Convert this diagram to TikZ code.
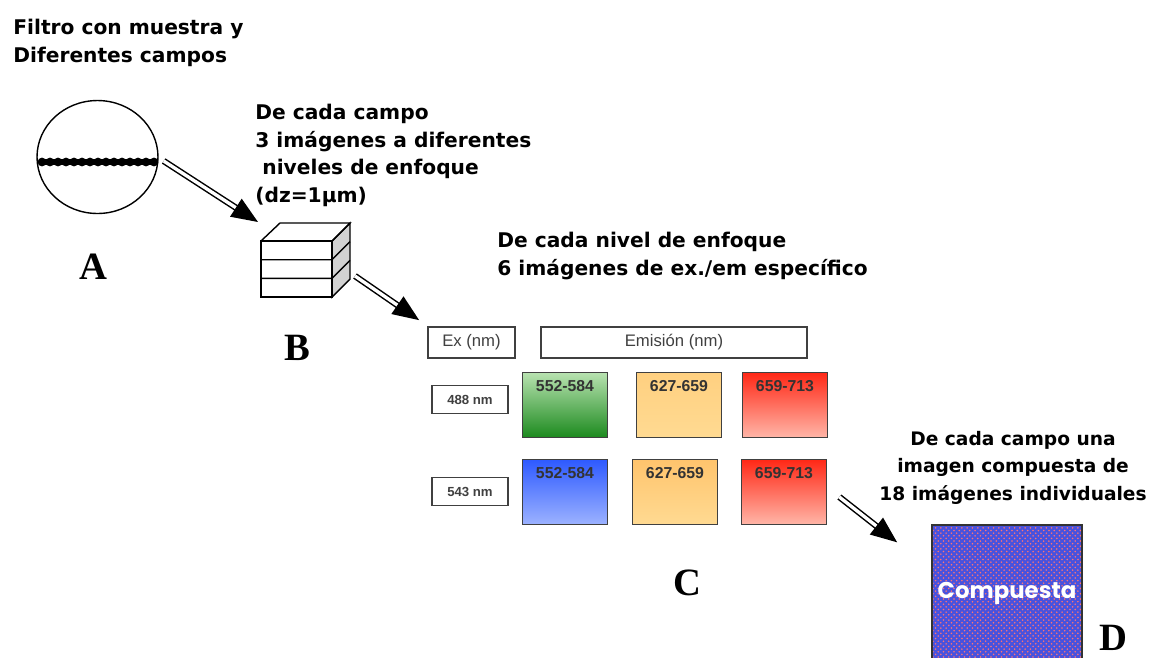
\documentclass[tikz,border=0pt]{standalone}
\usepackage{fontspec}
\setmainfont{Liberation Serif}
\setsansfont{Liberation Sans}
\newfontfamily\handfont{DejaVu Sans}
\newfontfamily\roundfont{Poppins}
\usetikzlibrary{arrows.meta, shapes.geometric, patterns}
\definecolor{greenTop}{RGB}{184,226,176}
\definecolor{greenBot}{RGB}{28,138,30}
\definecolor{yellowTop}{RGB}{255,208,128}
\definecolor{yellowBot}{RGB}{255,218,146}
\definecolor{redTop}{RGB}{255,40,22}
\definecolor{redBot}{RGB}{255,182,168}
\definecolor{blueTop}{RGB}{46,90,255}
\definecolor{blueBot}{RGB}{156,178,255}
\definecolor{compBlue}{RGB}{72,82,222}

\begin{document}
\begin{tikzpicture}[x=0.02cm, y=-0.02cm]

        % Setup the styles
        \tikzset{hand text/.style={font=\handfont\bfseries\fontsize{11.5}{15.6}\selectfont,
                                   align=left, inner sep=0pt, anchor=base west},
                 big letter/.style={font=\rmfamily\bfseries\fontsize{22}{22}\selectfont,
                                    inner sep=0pt, anchor=base},
                 head box/.style={draw=black!75, line width=1pt, fill=white,
                                  minimum height=0.62cm, inner sep=0pt, text=black!75,
                                  font=\sffamily\fontsize{9.5}{10}\selectfont},
                 ex box/.style={head box, minimum width=1.52cm, minimum height=0.56cm,
                                font=\sffamily\bfseries\fontsize{7.5}{8}\selectfont},
                 band text/.style={anchor=north, inner sep=5pt, text=black!80,
                                   font=\sffamily\bfseries\fontsize{9}{9}\selectfont},
                 filter square/.style={draw=black!75, line width=1pt, inner sep=0pt,
                                       minimum width=1.7cm, minimum height=1.3cm},
                 step arrow/.style={double, double distance=1.9pt, line width=0.85pt,
                                    -{Triangle[length=15pt, width=12pt]}}}

        \useasboundingbox (0,0) rectangle (1151,657);

        % A: the filter (base anchors sit on the last line)
        \node[hand text] at (13,62) (titulo) {Filtro con muestra y\\Diferentes campos};
        \node[draw, ellipse, line width=0.8pt, minimum width=2.42cm,
              minimum height=2.26cm] at (97.5,157) (filtro) {};
        \draw[line width=3pt] (39,162) -- (156,162);
        \foreach \i in {0,...,14}
            \fill (42+\i*8,162) circle (2.5pt);
        \node[big letter] at (93,279) (A) {A};

        % B: the stack of three focus levels
        \node[hand text] at (255,202) (textoB)
            {De cada campo\\3 imágenes a diferentes\\\hspace{0.35em}niveles de enfoque\\(dz=1µm)};
        \coordinate (cubo) at (261,241);
        \begin{scope}[shift={(cubo)}, line width=0.8pt]
            \draw[fill=gray!35] (71,0) -- (89,-18) -- (89,38) -- (71,56) -- cycle;
            \draw (0,0) -- (19,-18) -- (89,-18) -- (71,0);
            \draw (0,0) rectangle (71,56);
            \draw (0,18.7) -- (71,18.7) -- (89,0.7);
            \draw (0,37.3) -- (71,37.3) -- (89,19.3);
        \end{scope}
        \node[big letter] at (297,360) (B) {B};

        % C: excitation / emission table
        \node[hand text] at (497,275) (textoC)
            {De cada nivel de enfoque\\6 imágenes de ex./em específico};
        \node[head box, minimum width=1.74cm] at (471.5,342.5) (ex) {Ex (nm)};
        \node[head box, minimum width=5.32cm] at (674,342.5) (em) {Emisión (nm)};
        \node[ex box] at (470,399.5) (ex488) {488 nm};
        \node[ex box] at (470,491.5) (ex543) {543 nm};

        \node[filter square, top color=greenTop, bottom color=greenBot,
              label={[band text]north:552-584}] at (565,405) (verde1) {};
        \node[filter square, top color=yellowTop, bottom color=yellowBot,
              label={[band text]north:627-659}] at (679,405) (amarillo1) {};
        \node[filter square, top color=redTop, bottom color=redBot,
              label={[band text]north:659-713}] at (785,405) (rojo1) {};
        \node[filter square, top color=blueTop, bottom color=blueBot,
              label={[band text]north:552-584}] at (565,492) (azul2) {};
        \node[filter square, top color=yellowTop!85!orange, bottom color=yellowBot,
              label={[band text]north:627-659}] at (675,492) (amarillo2) {};
        \node[filter square, top color=redTop, bottom color=redBot,
              label={[band text]north:659-713}] at (784,492) (rojo2) {};
        \node[big letter] at (687,595) (C) {C};

        % D: the composite image
        \node[hand text, anchor=base, align=center,
              font=\handfont\bfseries\fontsize{10.6}{15.4}\selectfont] at (1013,500) (textoD)
            {De cada campo una\\imagen compuesta de\\18 imágenes individuales};
        \node[draw=black!80, line width=0.8pt, minimum width=2.72cm, minimum height=2.72cm,
              preaction={fill=compBlue}, pattern=crosshatch dots, pattern color=red!55,
              text=white, font=\roundfont\bfseries\fontsize{13}{13}\selectfont]
            at (1007,593) (compuesta) {Compuesta};
        \node[big letter] at (1113,650) (D) {D};

        % Connect the steps with arrows
        \coordinate (salidaA) at ([shift={(5,4)}]filtro.east);
        \coordinate (entradaB) at ([shift={(-3,-19)}]cubo);
        \coordinate (salidaB) at ([shift={(94,35)}]cubo);
        \coordinate (entradaC) at ([shift={(-8,-6)}]ex.north west);
        \coordinate (salidaC) at ([shift={(12,5)}]rojo2.east);
        \coordinate (entradaD) at ([shift={(-34,18)}]compuesta.north west);
        \draw[step arrow] (salidaA) -- (entradaB);
        \draw[step arrow] (salidaB) -- (entradaC);
        \draw[step arrow] (salidaC) -- (entradaD);
\end{tikzpicture}
\end{document}
